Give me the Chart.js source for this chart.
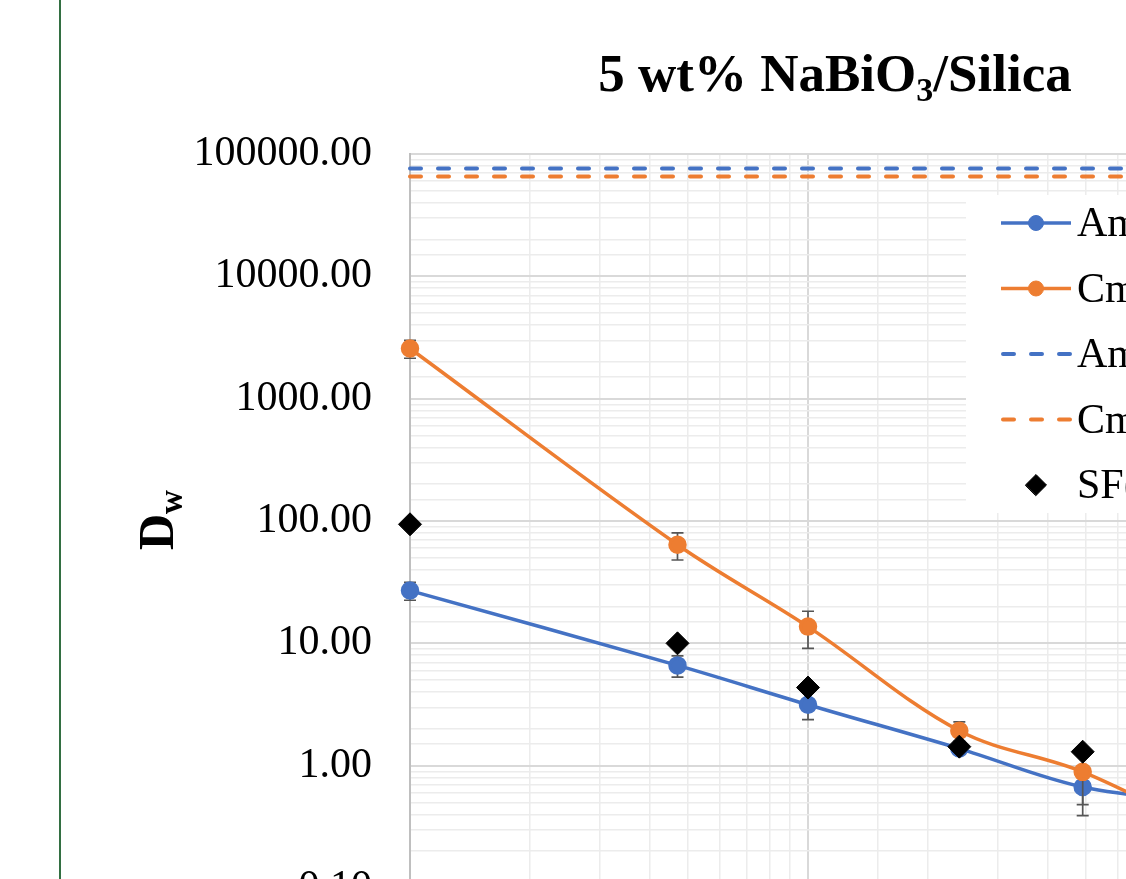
<!DOCTYPE html>
<html>
<head>
<meta charset="utf-8">
<title>5 wt% NaBiO3/Silica</title>
<script src="https://cdn.jsdelivr.net/npm/chart.js"></script>
<style>
    body { margin: 0; background: #fff; overflow: hidden; width: 1126px; height: 879px; }
    .chart-box { position: absolute; left: 0; top: 0; }
    .edge-line { position: absolute; left: 59px; top: 0; width: 2px; height: 879px; background: #336f42; }
</style>
</head>
<body>
<div class="chart-box">
    <canvas id="graficoDw" width="1300" height="1000"></canvas>
</div>
<div class="edge-line"></div>

<script>
// valores
const acidConc = [0.1, 0.47, 1, 2.4, 4.9, 10]
const amDw = [27, 6.6, 3.15, 1.38, 0.67, 0.5]
const amErr = [4.5, 1.3, 0.77, 0.1, 0.28, 0.1]
const cmDw = [2570, 64, 13.7, 1.93, 0.89, 0.29]
const cmErr = [430, 16, 4.6, 0.35, 0.41, 0.1]
const sfCmAm = [94, 10, 4.35, 1.43, 1.3, 0.58]
const limitConc = [0.1, 10]
const amLimit = [76000, 76000]
const cmLimit = [65500, 65500]
const yTicks = [0.1, 1, 10, 100, 1000, 10000, 100000]
const xTicks = [0.1, 1, 10]
const seriesNames = ['Am(III)', 'Cm(III)', 'Am(III) Limit', 'Cm(III) Limit', 'SF(Cm/Am)']

const serif = '"Liberation Serif", "Times New Roman", serif'
const azul = '#4472C4'
const laranja = '#ED7D31'

function pontos(xs, ys) {
    return xs.map(function (x, i) { return { x: x, y: ys[i] } })
}

function isDecade(v) {
    const l = Math.log10(v)
    return Math.abs(l - Math.round(l)) < 1e-6
}

function gridColor(ctx) {
    return ctx.tick && isDecade(ctx.tick.value) ? '#d9d9d9' : '#ececec'
}

function gridWidth(ctx) {
    return ctx.tick && isDecade(ctx.tick.value) ? 2 : 1.5
}

// barras de erro, desenhadas antes de cada serie
const errorBars = {
    id: 'errorBars',
    beforeDatasetDraw(chart, args) {
        const ds = chart.data.datasets[args.index]
        if (!ds.errors) return
        const ctx = chart.ctx
        const xs = chart.scales.x
        const ys = chart.scales.y
        ctx.save()
        ctx.strokeStyle = '#555'
        ctx.lineWidth = 1.7
        ds.data.forEach(function (p, i) {
            const e = ds.errors[i]
            const px = xs.getPixelForValue(p.x)
            const top = ys.getPixelForValue(p.y + e)
            const bot = ys.getPixelForValue(p.y - e)
            ctx.beginPath()
            ctx.moveTo(px, top)
            ctx.lineTo(px, bot)
            ctx.moveTo(px - 6, top)
            ctx.lineTo(px + 6, top)
            ctx.moveTo(px - 6, bot)
            ctx.lineTo(px + 6, bot)
            ctx.stroke()
        })
        ctx.restore()
    }
}

// titulo e eixo Y com subscrito
const textos = {
    id: 'textos',
    afterDraw(chart) {
        const ctx = chart.ctx
        ctx.save()
        ctx.fillStyle = '#000'
        ctx.textBaseline = 'alphabetic'
        ctx.textAlign = 'left'

        const big = 'bold 53px ' + serif
        const small = 'bold 34px ' + serif
        ctx.font = big
        const a = ctx.measureText('5 wt% NaBiO').width
        const c = ctx.measureText('/Silica').width
        ctx.font = small
        const b = ctx.measureText('3').width
        let x = 835 - (a + b + c) / 2
        ctx.font = big
        ctx.fillText('5 wt% NaBiO', x, 91)
        ctx.font = small
        ctx.fillText('3', x + a, 101)
        ctx.font = big
        ctx.fillText('/Silica', x + a + b, 91)

        ctx.translate(173, 550)
        ctx.rotate(-Math.PI / 2)
        ctx.font = 'bold 50px ' + serif
        const dw = ctx.measureText('D').width
        ctx.fillText('D', 0, 0)
        ctx.font = 'bold 33px ' + serif
        ctx.fillText('w', dw, 9)
        ctx.restore()
    }
}

// legenda sobre a area do grafico
const legenda = {
    id: 'legenda',
    afterDraw(chart) {
        const ctx = chart.ctx
        ctx.save()
        ctx.fillStyle = '#fff'
        ctx.fillRect(966, 195, 340, 318)
        chart.data.datasets.forEach(function (ds, i) {
            const y = 223 + i * 65.5
            if (ds.showLine) {
                ctx.strokeStyle = ds.borderColor
                ctx.lineWidth = ds.borderWidth
                ctx.lineCap = ds.borderDash ? 'round' : 'butt'
                ctx.setLineDash(ds.borderDash || [])
                ctx.beginPath()
                ctx.moveTo(ds.borderDash ? 1003 : 1001, y)
                ctx.lineTo(1071, y)
                ctx.stroke()
                ctx.setLineDash([])
            }
            if (ds.pointRadius > 0) {
                ctx.fillStyle = ds.pointBackgroundColor
                ctx.strokeStyle = ds.pointBorderColor
                ctx.lineWidth = 1
                ctx.beginPath()
                if (ds.pointStyle === 'rectRot') {
                    const r = 10.5
                    ctx.moveTo(1036 - r, y)
                    ctx.lineTo(1036, y - r)
                    ctx.lineTo(1036 + r, y)
                    ctx.lineTo(1036, y + r)
                } else {
                    ctx.arc(1036, y, ds.pointRadius, 0, Math.PI * 2)
                }
                ctx.closePath()
                ctx.fill()
                ctx.stroke()
            }
            ctx.fillStyle = '#000'
            ctx.font = '42px ' + serif
            ctx.textBaseline = 'alphabetic'
            ctx.textAlign = 'left'
            ctx.fillText(ds.label, 1077, y + 13)
        })
        ctx.restore()
    }
}

function graficoDw() {
    const el = document.getElementById('graficoDw').getContext('2d')

    new Chart(el, {
        type: 'scatter',
        data: {
            datasets: [{
                label: seriesNames[0],
                data: pontos(acidConc, amDw),
                errors: amErr,
                showLine: true,
                tension: 0.35,
                borderColor: azul,
                borderWidth: 3.5,
                pointStyle: 'circle',
                pointRadius: 7.5,
                pointBackgroundColor: azul,
                pointBorderColor: azul,
                clip: false,
                order: 4
            }, {
                label: seriesNames[1],
                data: pontos(acidConc, cmDw),
                errors: cmErr,
                showLine: true,
                tension: 0.35,
                borderColor: laranja,
                borderWidth: 3.5,
                pointStyle: 'circle',
                pointRadius: 7.5,
                pointBackgroundColor: laranja,
                pointBorderColor: laranja,
                clip: false,
                order: 3
            }, {
                label: seriesNames[2],
                data: pontos(limitConc, amLimit),
                showLine: true,
                borderColor: azul,
                borderWidth: 4,
                borderDash: [11, 17],
                borderCapStyle: 'round',
                pointRadius: 0,
                clip: false,
                order: 2
            }, {
                label: seriesNames[3],
                data: pontos(limitConc, cmLimit),
                showLine: true,
                borderColor: laranja,
                borderWidth: 4,
                borderDash: [11, 17],
                borderCapStyle: 'round',
                pointRadius: 0,
                clip: false,
                order: 1
            }, {
                label: seriesNames[4],
                data: pontos(acidConc, sfCmAm),
                showLine: false,
                pointStyle: 'rectRot',
                pointRadius: 11.5,
                pointBackgroundColor: '#000',
                pointBorderColor: '#000',
                pointBorderWidth: 1,
                clip: false,
                order: 0
            }]
        },
        options: {
            responsive: false,
            animation: false,
            layout: { padding: { left: 0, top: 154, right: 94, bottom: 0 } },
            plugins: {
                legend: { display: false },
                title: { display: false },
                tooltip: { enabled: false }
            },
            scales: {
                x: {
                    type: 'logarithmic',
                    min: 0.1,
                    max: 10,
                    afterFit: function (scale) { scale.height = 112 },
                    border: { color: '#bfbfbf', width: 2 },
                    grid: { color: gridColor, lineWidth: gridWidth, drawTicks: false },
                    ticks: {
                        autoSkip: false,
                        maxRotation: 0,
                        padding: 20,
                        color: '#000',
                        font: { family: serif, size: 42 },
                        callback: function (v) {
                            return xTicks.some(function (t) { return Math.abs(t - v) / t < 1e-6 }) ? String(v) : ''
                        }
                    }
                },
                y: {
                    type: 'logarithmic',
                    min: 0.1,
                    max: 100000,
                    afterFit: function (scale) { scale.width = 410 },
                    border: { color: '#bfbfbf', width: 2 },
                    grid: { color: gridColor, lineWidth: gridWidth, drawTicks: false },
                    ticks: {
                        autoSkip: false,
                        padding: 38,
                        color: '#000',
                        font: { family: serif, size: 42 },
                        callback: function (v) {
                            return yTicks.some(function (t) { return Math.abs(t - v) / t < 1e-6 }) ? Number(v).toFixed(2) : ''
                        }
                    }
                }
            }
        },
        plugins: [errorBars, legenda, textos]
    })
}

graficoDw()
</script>
</body>
</html>
